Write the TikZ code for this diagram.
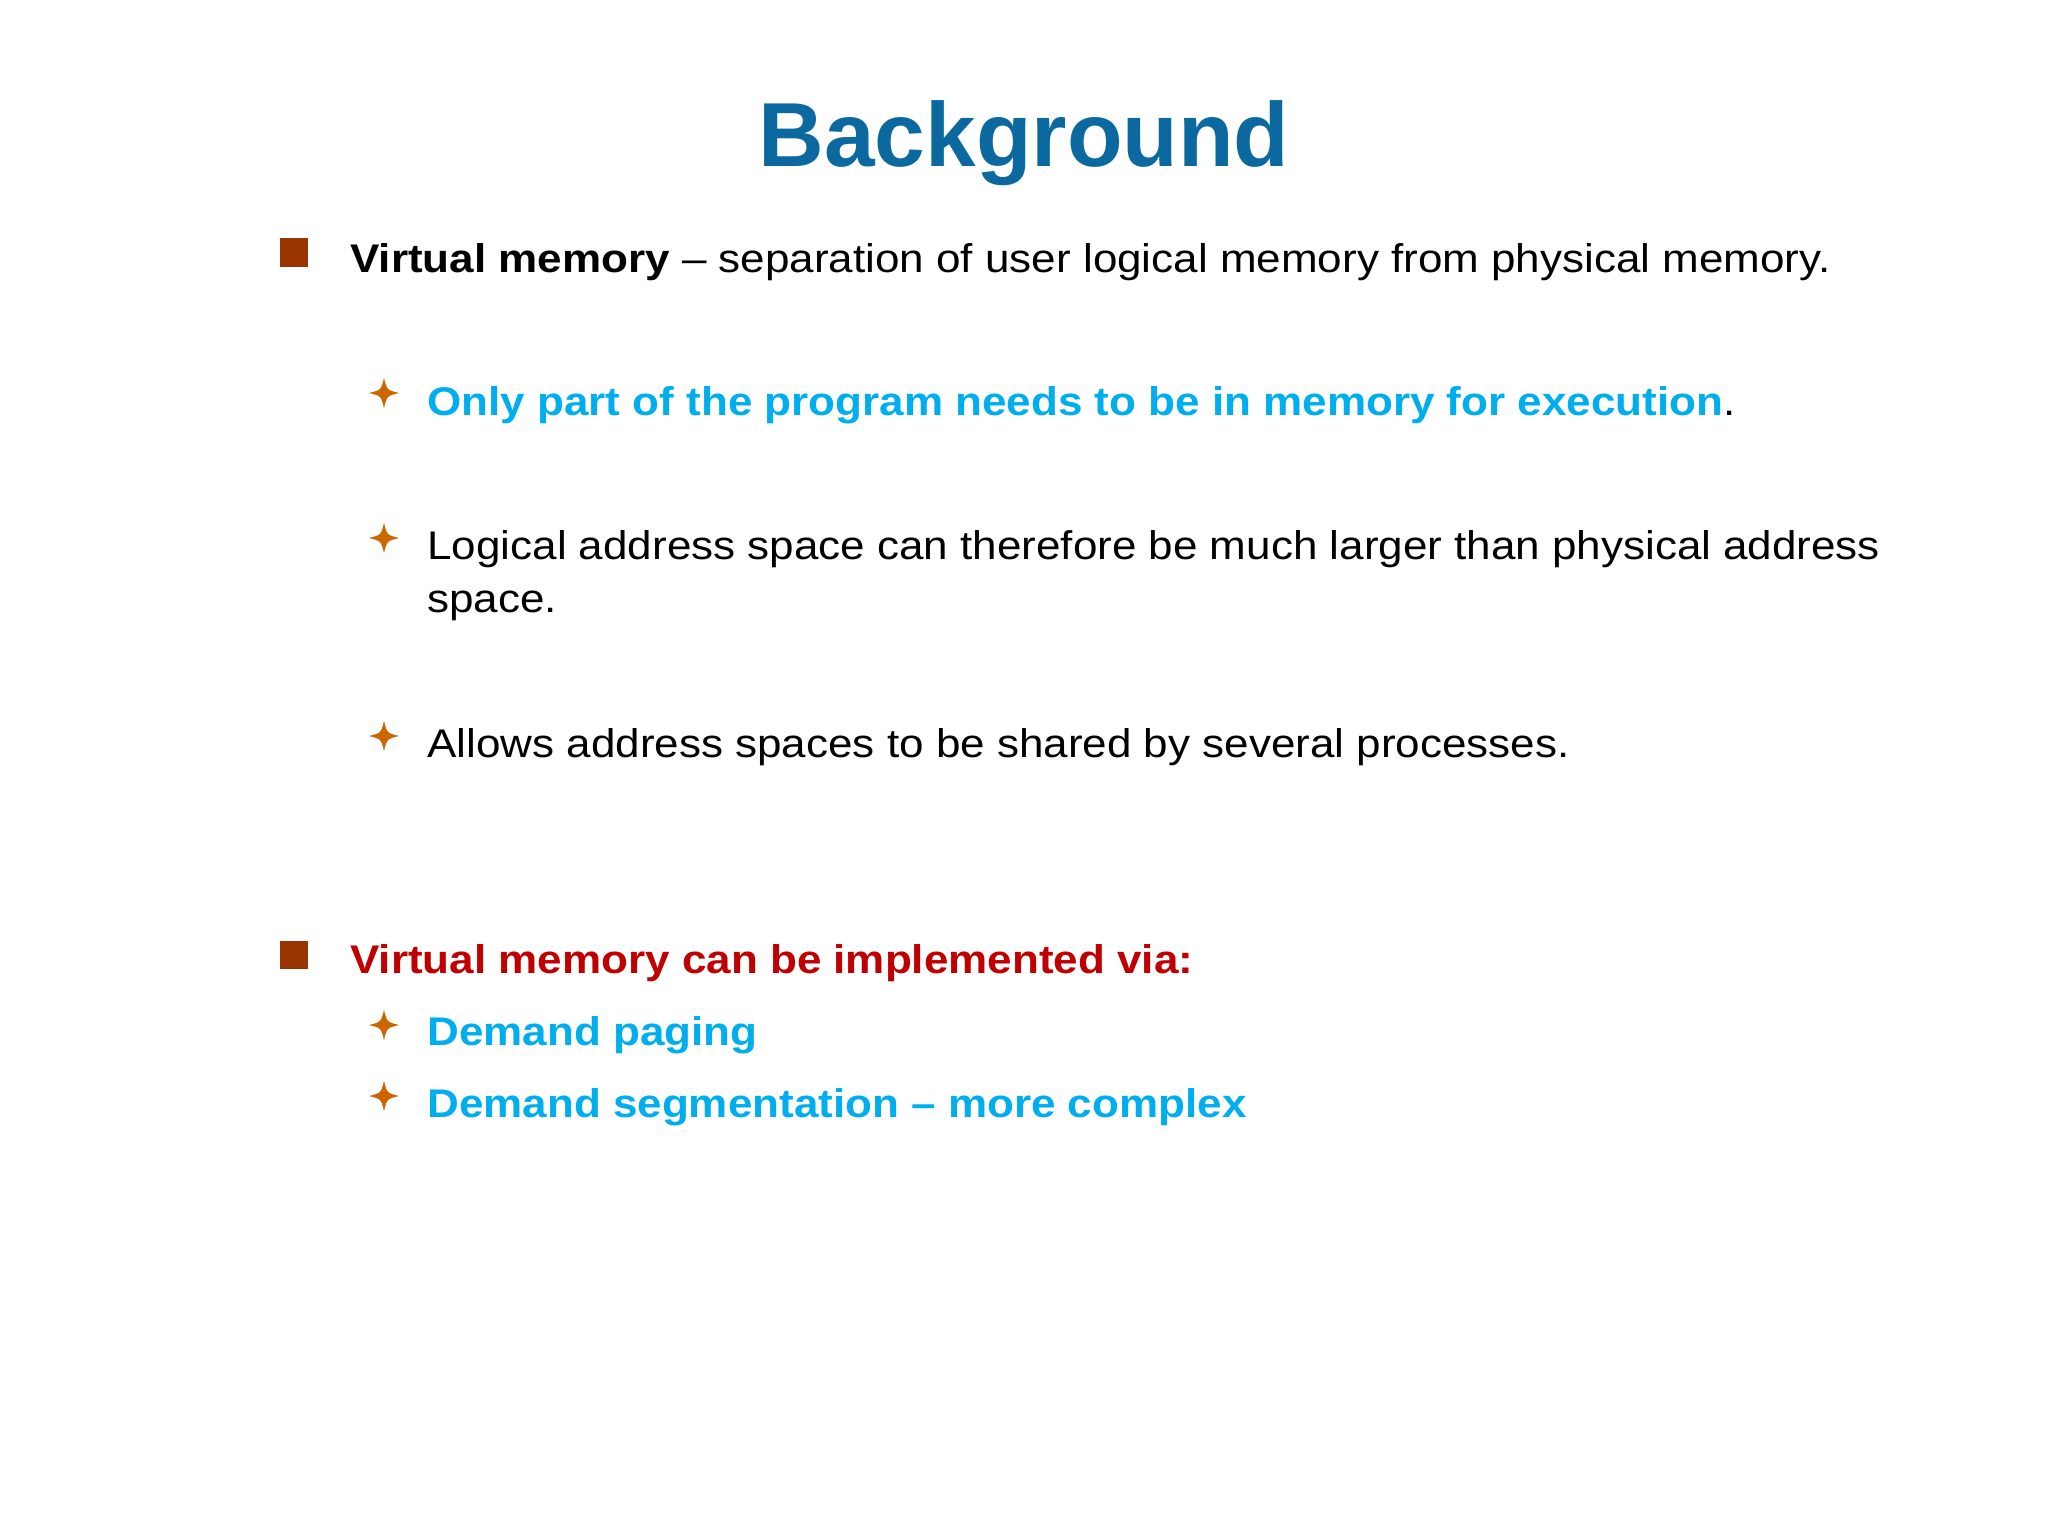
\documentclass[tikz,border=0pt]{standalone}
\usepackage{fontspec}
\setmainfont{Liberation Sans}
\newfontfamily\bodyfont[FakeStretch=1.1]{Liberation Sans}
\definecolor{titleblue}{HTML}{0B69A0}
\definecolor{cyanb}{HTML}{00AEEF}
\definecolor{redb}{HTML}{C00000}
\definecolor{sqc}{HTML}{993300}
\definecolor{starc}{HTML}{CC6600}
\tikzset{
 txt/.style={anchor=base west,inner sep=0pt,font=\bodyfont\fontsize{20}{24}\selectfont},
 btxt/.style={txt,font=\bodyfont\fontsize{20}{24}\selectfont\bfseries},
 sqb/.style={fill=sqc,draw=none},
}
\newcommand{\mystar}[2]{\fill[starc] (#1-15,#2) .. controls (#1-3,#2-3) .. (#1,#2-15) .. controls (#1+3,#2-3) .. (#1+15,#2) .. controls (#1+3,#2+3) .. (#1,#2+15) .. controls (#1-3,#2+3) .. (#1-15,#2) -- cycle;}
\begin{document}
\begin{tikzpicture}[x=0.5pt,y=-0.5pt]
\useasboundingbox (0,0) rectangle (2048,1536);
\node[anchor=base,inner sep=0pt,font=\fontsize{45.5}{54}\selectfont\bfseries,text=titleblue] (title) at (1024,166) {Background};
\fill[sqb] (280,238) rectangle (308,267);
\node[txt] (t1) at (350,272) {\textbf{Virtual memory} – separation of user logical memory from physical memory.};
\mystar{384}{393}
\node[btxt,text=cyanb] (t2) at (427,415) {Only part of the program needs to be in memory for execution\textcolor{black}{\mdseries .}};
\mystar{384}{538}
\node[txt] (t3) at (427,559) {Logical address space can therefore be much larger than physical address};
\node[txt] (t3b) at (427,612) {space.};
\mystar{384}{736}
\node[txt] (t4) at (427,757) {Allows address spaces to be shared by several processes.};
\fill[sqb] (280,941) rectangle (308,969);
\node[btxt,text=redb] (t5) at (350,973) {Virtual memory can be implemented via:};
\mystar{384}{1025}
\node[btxt,text=cyanb] (t6) at (427,1045) {Demand paging};
\mystar{384}{1096}
\node[btxt,text=cyanb] (t7) at (427,1117) {Demand segmentation – more complex};
\end{tikzpicture}
\end{document}
